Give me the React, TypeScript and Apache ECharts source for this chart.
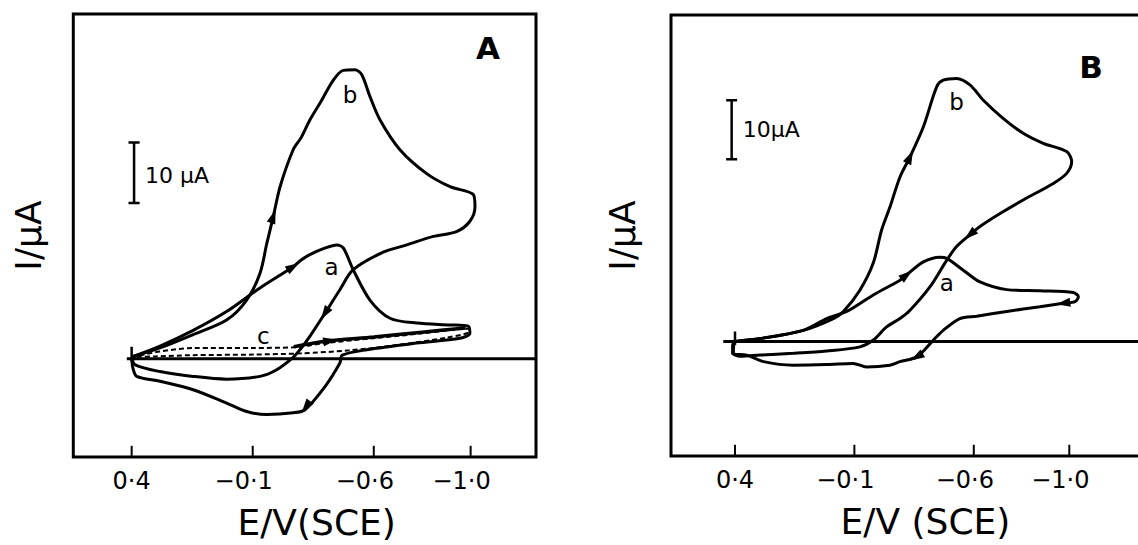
import React, { useEffect, useRef } from "react";
import * as echarts from "echarts";

// ---------- axis ticks ----------
const xTickValues = [0.4, -0.1, -0.6, -1.0];
const xTickLabels = ["0·4", "−0·1", "−0·6", "−1·0"];

// ---------- axis ranges ----------
const rangeA = { Emin: -1.27, Emax: 0.641, Imin: -16.2, Imax: 56.9 };
const rangeB = { Emin: -1.338, Emax: 0.668, Imin: -19.4, Imax: 55.35 };

// ---------- Panel A (E / V, I / µA) ----------
const aA_E = [0.40, 0.283, 0.146, 0.008, -0.13, -0.267, -0.30, -0.336, -0.40, -0.447, -0.474, -0.515, -0.584, -0.667, -0.777, -0.915, -0.99, -0.997, -0.956, -0.777, -0.571, -0.47, -0.46, -0.40, -0.316, -0.268, -0.158, -0.075, 0.008, 0.146, 0.283, 0.379, 0.395, 0.40];
const aA_I = [0.3, 2.1, 4.7, 7.8, 11.7, 15.2, 16.3, 17.2, 18.3, 18.8, 18.3, 14.7, 9.7, 6.7, 5.9, 5.6, 5.4, 4.2, 3.4, 2.6, 1.5, 0.6, -0.7, -4.5, -8.4, -8.9, -9.2, -8.7, -7.3, -5.1, -3.7, -2.9, -1.5, 0.3];

const bA_E = [0.40, 0.283, 0.146, 0.008, -0.075, -0.13, -0.158, -0.185, -0.213, -0.267, -0.30, -0.336, -0.378, -0.433, -0.474, -0.522, -0.55, -0.584, -0.626, -0.708, -0.817, -0.915, -1.011, -1.018, -0.997, -0.942, -0.846, -0.736, -0.639, -0.515, -0.46, -0.398, -0.336, -0.295, -0.266, -0.199, -0.13, 0.009, 0.146, 0.283, 0.385, 0.40];
const bA_I = [0.3, 1.8, 4.0, 6.4, 9.7, 14.1, 19.0, 23.5, 28.4, 34.5, 36.5, 39.4, 42.2, 46.0, 47.6, 47.7, 46.9, 43.3, 39.4, 34.5, 30.6, 28.4, 27.1, 25.1, 22.7, 21.0, 20.2, 18.8, 17.6, 14.7, 11.4, 7.5, 3.7, 1.5, 0.2, -1.8, -2.9, -3.35, -2.9, -2.1, -1.0, 0.3];

const cA_E = [0.40, 0.283, 0.146, -0.10, -0.267, -0.40, -0.60, -0.80, -0.95, -0.995, -0.99, -0.90, -0.70, -0.50, -0.30, -0.10, 0.15, 0.30, 0.40];
const cA_I = [0.3, 1.2, 1.8, 1.8, 1.9, 2.6, 3.4, 4.2, 4.9, 5.0, 4.3, 3.5, 2.3, 1.4, 0.9, 0.7, 0.6, 0.4, 0.3];

const cSolidA_E = [-0.27, -0.40, -0.60, -0.80, -0.98];
const cSolidA_I = [2.0, 2.9, 3.6, 4.4, 5.1];

// ---------- Panel B ----------
const aB_E = [0.40, 0.295, 0.114, 0.016, -0.068, -0.179, -0.291, -0.319, -0.389, -0.458, -0.487, -0.556, -0.626, -0.738, -0.877, -1.017, -1.038, -1.024, -0.975, -0.877, -0.738, -0.612, -0.542, -0.472, -0.431, -0.361, -0.291, -0.249, -0.151, -0.095, 0.016, 0.156, 0.281, 0.351, 0.41, 0.41, 0.40];
const aB_I = [0.0, 0.5, 1.9, 3.9, 5.1, 7.9, 10.4, 11.3, 13.5, 14.3, 14.1, 12.1, 10.1, 8.8, 8.6, 8.3, 7.6, 6.75, 6.5, 5.9, 5.1, 4.3, 3.9, 1.9, 0.25, -2.6, -3.4, -4.0, -4.3, -3.7, -3.9, -4.0, -3.4, -2.3, -2.0, -0.6, 0.0];

const bB_E = [0.40, 0.295, 0.114, -0.012, -0.054, -0.123, -0.179, -0.214, -0.249, -0.291, -0.333, -0.389, -0.445, -0.472, -0.528, -0.584, -0.64, -0.724, -0.807, -0.891, -0.989, -1.01, -0.989, -0.933, -0.807, -0.71, -0.626, -0.584, -0.528, -0.487, -0.417, -0.333, -0.291, -0.235, -0.179, -0.123, 0.016, 0.156, 0.295, 0.379, 0.407, 0.405, 0.40];
const bB_I = [0.0, 0.5, 1.9, 3.9, 5.1, 8.7, 13.3, 18.9, 22.8, 27.9, 31.3, 36.4, 43.2, 44.3, 44.6, 43.5, 40.9, 37.8, 35.3, 33.6, 32.2, 30.5, 28.5, 26.8, 24.0, 21.7, 19.5, 18.1, 16.1, 13.8, 9.3, 5.3, 3.9, 2.5, 0.25, -0.9, -1.6, -2.0, -2.3, -2.5, -2.0, -0.6, 0.0];

// ---------- arrows: [E, I, rotation deg] ----------
const arrowsA_E = [-0.185, -0.267, -0.398, -0.32, -0.42];
const arrowsA_I = [23.5, 15.2, 7.5, -7.9, 3.0];
const arrowsA_R = [-19, -59, 147, 143, -80];
const arrowsB_E = [-0.333, -0.319, -0.584, -0.975, -0.361];
const arrowsB_I = [31.3, 11.3, 18.1, 6.5, -2.6];
const arrowsB_R = [-25, -52, 131, 98, 120];

// ---------- baselines, start marks, scale bars ----------
const baseA_E = [0.42, -1.27];
const baseB_E = [0.449, -1.34];
const startMarkA_I = [-0.4, 2.0];
const startMarkB_I = [-0.6, 1.7];
const scaleA = { E: 0.39, lo: 25.7, hi: 35.7 };
const scaleB = { E: 0.414, lo: 30.9, hi: 40.9 };
const capHalf = 0.023;
const tickLenA = 1.85; // µA (≈11 px)
const tickLenB = 1.9;

// ---------- text labels ----------
const labelsA = [
  { t: "A", E: -1.072, I: 51.3, size: 31, bold: true },
  { t: "b", E: -0.502, I: 43.6, size: 23, bold: false },
  { t: "a", E: -0.426, I: 15.2, size: 23, bold: false },
  { t: "c", E: -0.144, I: 3.7, size: 23, bold: false },
];
const labelsB = [
  { t: "B", E: -1.091, I: 46.5, size: 31, bold: true },
  { t: "b", E: -0.528, I: 40.6, size: 23, bold: false },
  { t: "a", E: -0.487, I: 9.9, size: 23, bold: false },
];
const scaleTextA = { t: "10 µA", E: 0.345, I: 30.2 };
const scaleTextB = { t: "10µA", E: 0.368, I: 36.0 };

const zip = (xs: number[], ys: number[]) => xs.map((x, i) => [x, ys[i]]);
const FONT = "DejaVu Sans";

function curve(name: string, g: number, data: number[][], dashed = false, width = 3) {
  return {
    name,
    type: "line",
    xAxisIndex: g,
    yAxisIndex: g,
    data,
    showSymbol: false,
    symbol: "none",
    smooth: 0.3,
    lineStyle: { color: "#000", width, opacity: 1, type: dashed ? [5, 3] : "solid" },
    silent: true,
    z: 3,
  };
}

function straight(name: string, g: number, data: number[][], width = 3) {
  return {
    name,
    type: "line",
    xAxisIndex: g,
    yAxisIndex: g,
    data,
    showSymbol: false,
    symbol: "none",
    lineStyle: { color: "#000", width, opacity: 1 },
    silent: true,
    z: 2,
  };
}

function arrows(name: string, g: number, E: number[], I: number[], R: number[]) {
  return {
    name,
    type: "scatter",
    xAxisIndex: g,
    yAxisIndex: g,
    symbol: "triangle",
    symbolSize: [9, 14],
    itemStyle: { color: "#000", opacity: 1 },
    data: E.map((e, i) => ({ value: [e, I[i]], symbolRotate: R[i] })),
    silent: true,
    z: 4,
  };
}

function texts(name: string, g: number, list: { t: string; E: number; I: number; size: number; bold: boolean }[]) {
  return {
    name,
    type: "scatter",
    xAxisIndex: g,
    yAxisIndex: g,
    symbolSize: 0,
    itemStyle: { color: "#000", opacity: 1 },
    data: list.map((l) => ({
      value: [l.E, l.I],
      label: {
        show: true,
        position: "inside",
        formatter: l.t,
        fontSize: l.size,
        fontWeight: l.bold ? "bold" : "normal",
        fontFamily: FONT,
        color: "#000",
        opacity: 1,
        textBorderWidth: 0,
      },
    })),
    silent: true,
    z: 5,
  };
}

function scaleText(name: string, g: number, s: { t: string; E: number; I: number }) {
  return {
    name,
    type: "scatter",
    xAxisIndex: g,
    yAxisIndex: g,
    symbolSize: 0,
    itemStyle: { color: "#000", opacity: 1 },
    data: [
      {
        value: [s.E, s.I],
        label: {
          show: true,
          position: "right",
          distance: 0,
          formatter: s.t,
          fontSize: 22,
          fontFamily: FONT,
          color: "#000",
          opacity: 1,
          textBorderWidth: 0,
        },
      },
    ],
    silent: true,
    z: 5,
  };
}

function scaleBar(name: string, g: number, s: { E: number; lo: number; hi: number }) {
  return [
    straight(name, g, [[s.E, s.lo], [s.E, s.hi]], 2.5),
    straight(name + "-cap1", g, [[s.E + capHalf, s.lo], [s.E - capHalf, s.lo]], 2.5),
    straight(name + "-cap2", g, [[s.E + capHalf, s.hi], [s.E - capHalf, s.hi]], 2.5),
  ];
}

function ticks(name: string, g: number, ymin: number, len: number) {
  return xTickValues.map((v, i) => straight(`${name}-${i}`, g, [[v, ymin], [v, ymin + len]], 2));
}

const tickFont = { fontSize: 24, fontFamily: FONT, color: "#000" };

function xAxis(g: number, r: { Emin: number; Emax: number }, name: string, padLeft: number) {
  return {
    type: "value",
    gridIndex: g,
    min: r.Emin,
    max: r.Emax,
    inverse: true,
    position: "bottom",
    name,
    nameLocation: "middle",
    nameGap: 47,
    nameTextStyle: { fontSize: 36, fontFamily: FONT, color: "#000", padding: [0, 0, 0, padLeft] },
    axisLine: { show: false, onZero: false },
    splitLine: { show: false },
    axisTick: { show: false },
    axisLabel: {
      show: true,
      customValues: xTickValues,
      margin: 12,
      ...tickFont,
      formatter: (v: number) => {
        const i = xTickValues.findIndex((t) => Math.abs(t - v) < 1e-6);
        if (i < 0) return "";
        return v < 0 ? `{n|${xTickLabels[i]}}` : `{p|${xTickLabels[i]}}`;
      },
      rich: {
        n: { ...tickFont, padding: [0, 18, 0, 0] },
        p: { ...tickFont },
      },
    },
  };
}

function yAxis(g: number, r: { Imin: number; Imax: number }, gap: number) {
  return {
    type: "value",
    gridIndex: g,
    min: r.Imin,
    max: r.Imax,
    name: "I/µA",
    nameLocation: "middle",
    nameRotate: 90,
    nameGap: gap,
    nameTextStyle: { fontSize: 36, fontFamily: FONT, color: "#000" },
    axisLine: { show: false, onZero: false },
    axisTick: { show: false },
    axisLabel: { show: false },
    splitLine: { show: false },
  };
}

export default function App() {
  const ref = useRef<HTMLDivElement>(null);
  useEffect(() => {
    document.body.style.margin = "0";
    document.body.style.overflow = "hidden";
    if (!ref.current) return;
    const chart = echarts.init(ref.current, null, { renderer: "svg" });
    const option: any = {
      animation: false,
      backgroundColor: "#fff",
      grid: [
        { left: 73.3, top: 14, width: 462.7, height: 443, show: true, borderColor: "#000", borderWidth: 3, backgroundColor: "transparent" },
        { left: 671, top: 15, width: 479, height: 441, show: true, borderColor: "#000", borderWidth: 3, backgroundColor: "transparent" },
      ],
      xAxis: [xAxis(0, rangeA, "E/V(SCE)", 24), xAxis(1, rangeB, "E/V (SCE)", 30)],
      yAxis: [yAxis(0, rangeA, 27), yAxis(1, rangeB, 31)],
      series: [
        // panel A
        ...ticks("ticks A", 0, rangeA.Imin, tickLenA),
        straight("baseline A", 0, baseA_E.map((e) => [e, 0])),
        straight("start A", 0, startMarkA_I.map((i) => [xTickValues[0], i]), 2.5),
        ...scaleBar("scale A", 0, scaleA),
        curve("a (A)", 0, zip(aA_E, aA_I)),
        curve("b (A)", 0, zip(bA_E, bA_I)),
        curve("c (A)", 0, zip(cA_E, cA_I), true, 2),
        curve("c solid (A)", 0, zip(cSolidA_E, cSolidA_I), false, 3.5),
        arrows("arrows A", 0, arrowsA_E, arrowsA_I, arrowsA_R),
        texts("labels A", 0, labelsA),
        scaleText("scale text A", 0, scaleTextA),
        // panel B
        ...ticks("ticks B", 1, rangeB.Imin, tickLenB),
        straight("baseline B", 1, baseB_E.map((e) => [e, 0])),
        straight("start B", 1, startMarkB_I.map((i) => [xTickValues[0], i]), 2.5),
        ...scaleBar("scale B", 1, scaleB),
        curve("a (B)", 1, zip(aB_E, aB_I)),
        curve("b (B)", 1, zip(bB_E, bB_I)),
        arrows("arrows B", 1, arrowsB_E, arrowsB_I, arrowsB_R),
        texts("labels B", 1, labelsB),
        scaleText("scale text B", 1, scaleTextB),
      ],
    };
    chart.setOption(option);
    return () => chart.dispose();
  }, []);
  return (
    <div style={{ width: 1138, height: 545, overflow: "hidden", position: "relative" }}>
      <div ref={ref} style={{ width: 1160, height: 545 }} />
    </div>
  );
}
